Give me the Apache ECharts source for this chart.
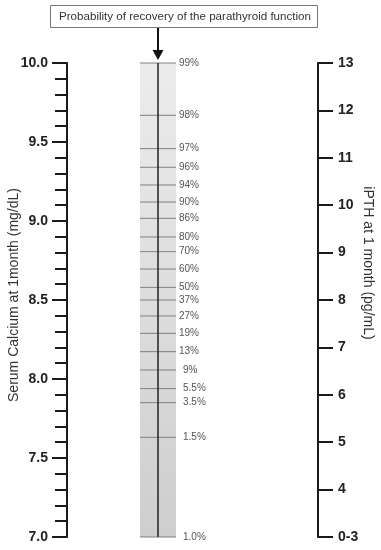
<!DOCTYPE html>
<html><head><meta charset="utf-8">
<script src="https://cdn.jsdelivr.net/npm/echarts@6/dist/echarts.min.js"></script>
<style>html,body{margin:0;padding:0;background:#fff}#c{width:381px;height:550px}</style>
</head><body><div id="c"></div>
<script>
// Left scale: serum calcium (mg/dL)
const calciumMin = 7.0, calciumMax = 10.0, calciumStep = 0.5;
// Right scale: iPTH (pg/mL), bottom labelled "0-3"
const pthMin = 3, pthMax = 13, pthStep = 1;
// Probability scale: labels and their position on the calcium scale
const probLabels = ['99%','98%','97%','96%','94%','90%','86%','80%','70%','60%','50%','37%','27%','19%','13%','9%','5.5%','3.5%','1.5%','1.0%'];
const probAtCalcium = [10.0,9.669,9.458,9.340,9.228,9.120,9.017,8.899,8.806,8.696,8.580,8.500,8.399,8.289,8.173,8.057,7.939,7.850,7.631,7.0];
const titleText = 'Probability of recovery of the parathyroid function';
const leftName = 'Serum Calcium at 1month (mg/dL)';
const rightName = 'iPTH at 1 month (pg/mL)';

const chart = echarts.init(document.getElementById('c'));
const FONT = 'Liberation Sans, Arial, sans-serif';
const axisColor = '#1a1a1a';

chart.setOption({
  animation: false,
  backgroundColor: '#fff',
  grid: [
    {left: 67, right: 63, top: 63, bottom: 13, containLabel: false, outerBoundsMode: 'none'},
    {left: 140, width: 36, top: 63, bottom: 13, containLabel: false, outerBoundsMode: 'none'}
  ],
  xAxis: [
    {gridIndex: 0, type: 'value', show: false, min: 0, max: 1},
    {gridIndex: 1, type: 'value', show: false, min: 0, max: 1}
  ],
  yAxis: [
    {
      gridIndex: 0, type: 'value', position: 'left', min: calciumMin, max: calciumMax, interval: calciumStep,
      axisLine: {show: true, lineStyle: {color: axisColor, width: 2}},
      axisTick: {show: true, length: 15, lineStyle: {color: axisColor, width: 2}},
      minorTick: {show: true, splitNumber: 5, length: 12, lineStyle: {color: axisColor, width: 2}},
      splitLine: {show: false},
      axisLabel: {margin: 19, fontFamily: FONT, fontSize: 14, fontWeight: 'bold', color: '#222',
        formatter: v => v.toFixed(1)},
      name: leftName, nameLocation: 'middle', nameRotate: 90, nameGap: 46, nameMoveOverlap: false,
      nameTextStyle: {fontFamily: FONT, fontSize: 14, color: '#333', padding: [0, 0, 0, 10]}
    },
    {
      gridIndex: 0, type: 'value', position: 'right', min: pthMin, max: pthMax, interval: pthStep,
      axisLine: {show: true, lineStyle: {color: axisColor, width: 2}},
      axisTick: {show: true, length: 15, lineStyle: {color: axisColor, width: 2}},
      splitLine: {show: false},
      axisLabel: {margin: 20, fontFamily: FONT, fontSize: 14, fontWeight: 'bold', color: '#222',
        formatter: v => (v === pthMin ? '0-3' : String(v))},
      name: rightName, nameLocation: 'middle', nameRotate: -90, nameGap: 43, nameMoveOverlap: false,
      nameTextStyle: {fontFamily: FONT, fontSize: 14, color: '#333', padding: [0, 74, 0, 0]}
    },
    {gridIndex: 1, type: 'value', show: false, min: calciumMin, max: calciumMax}
  ],
  series: [
    {
      type: 'custom', xAxisIndex: 1, yAxisIndex: 2, silent: true, z: 1,
      data: [[calciumMin, calciumMax]],
      renderItem: (params, api) => {
        const p0 = api.coord([0, api.value(1)]);
        const p1 = api.coord([1, api.value(0)]);
        return {type: 'rect', shape: {x: p0[0], y: p0[1], width: p1[0] - p0[0], height: p1[1] - p0[1]},
          style: {fill: new echarts.graphic.LinearGradient(0, 0, 0, 1, [
            {offset: 0, color: '#ececec'}, {offset: 1, color: '#cecece'}])}};
      }
    },
    {
      type: 'custom', xAxisIndex: 1, yAxisIndex: 2, silent: true, z: 2,
      data: probAtCalcium.map((v, i) => [v, i]),
      renderItem: (params, api) => {
        const y = api.value(0);
        const lbl = probLabels[api.value(1)];
        const a = api.coord([0, y]);
        const b = api.coord([1, y]);
        const indent = /^\d(\.|%)/.test(lbl) ? 4 : 0;
        return {type: 'group', children: [
          {type: 'line', shape: {x1: a[0], y1: a[1], x2: b[0], y2: b[1]}, style: {stroke: '#808080', lineWidth: 1}},
          {type: 'text', x: b[0] + 3 + indent, y: a[1], style: {text: lbl, fill: '#555', font: '10px ' + FONT, verticalAlign: 'middle'}}
        ]};
      }
    },
    {
      type: 'line', xAxisIndex: 1, yAxisIndex: 2, silent: true, z: 3, symbol: 'none',
      data: [[0.5, calciumMin], [0.5, calciumMax]],
      lineStyle: {color: '#222', width: 1.5}
    }
  ],
  graphic: [
    {type: 'rect', shape: {x: 50.5, y: 5.5, width: 267, height: 22}, style: {fill: '#fff', stroke: '#777', lineWidth: 1}, z: 10},
    {type: 'text', x: 185, y: 17, style: {text: titleText, fill: '#333', font: '11.6px ' + FONT, align: 'center', verticalAlign: 'middle'}, z: 11},
    {type: 'line', shape: {x1: 158, y1: 28, x2: 158, y2: 52}, style: {stroke: '#111', lineWidth: 2}, z: 11},
    {type: 'polygon', shape: {points: [[152.5, 50], [163.5, 50], [158, 60]]}, style: {fill: '#111'}, z: 11}
  ]
});
</script></body></html>
